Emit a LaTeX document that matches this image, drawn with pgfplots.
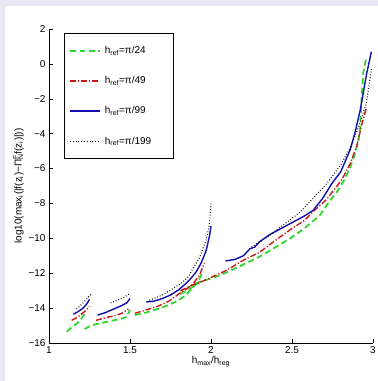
\documentclass[border=0pt]{standalone}
\usepackage{fontspec}
\setmainfont{Liberation Sans}
\usepackage{pgfplots}
\pgfplotsset{compat=1.18}
\definecolor{lav}{RGB}{234,230,246}
\definecolor{mgreen}{RGB}{45,215,45}
\definecolor{mred}{RGB}{200,25,25}
\definecolor{mblue}{RGB}{15,15,175}
\begin{document}
\begin{tikzpicture}
\fill[lav] (-49bp,-38bp) rectangle (329bp,343bp);
\fill[white] (-44bp,-38bp) rectangle (329bp,337bp);
\useasboundingbox (-49bp,-38bp) rectangle (329bp,343bp);
\begin{axis}[
  at={(0,0)}, anchor=south west,
  scale only axis, width=324bp, height=314bp,
  xmin=1, xmax=3, ymin=-16, ymax=2,
  axis x line*=bottom, axis y line*=left,
  axis line style={-, line width=0.6pt},
  tick align=inside, major tick length=4bp,
  tick style={black, line width=0.5pt},
  xtick={1,1.5,2,2.5,3}, xticklabels={1,1.5,2,2.5,3},
  ytick={-16,-14,...,2}, yticklabels={−16,−14,−12,−10,−8,−6,−4,−2,0,2},
  ticklabel style={font=\fontsize{10}{12}\selectfont},
  xlabel={h\textsubscript{max}/h\textsubscript{reg}},
  ylabel={log10(max\textsubscript{i}(|f(z\textsubscript{i})−Π\rlap{\textsuperscript{F}}\textsubscript{N}f(z\textsubscript{i})|))},
  label style={font=\fontsize{10}{12}\selectfont},
  xlabel style={yshift=4bp},
  ylabel style={yshift=-2bp},
  unbounded coords=jump,
  legend style={at={(0.046,0.987)}, anchor=north west, draw=black, fill=white,
    font=\fontsize{10}{12}\selectfont, row sep=17.5bp, inner xsep=5bp, inner ysep=11bp,
    line width=0.5pt,
    /tikz/every odd column/.append style={column sep=2bp}},
  legend cell align=left,
  legend image code/.code={\draw[#1] (0bp,0bp) -- (30bp,0bp);},
]
\addplot[mgreen, line width=1.8pt, dash pattern=on 6pt off 3.5pt] coordinates {
(1.11,-15.35)(1.14,-15.1)(1.17,-14.9)(1.20,-14.6)(1.22,-14.3)
(1.22,nan)
(1.22,-15.2)(1.26,-15.0)(1.30,-14.9)(1.35,-14.8)(1.40,-14.7)(1.45,-14.6)(1.48,-14.5)(1.50,-14.1)
(1.51,nan)
(1.53,-14.4)(1.60,-14.25)(1.67,-14.05)(1.73,-13.85)(1.79,-13.6)(1.84,-13.3)(1.87,-13.0)(1.90,-12.7)(1.93,-12.3)(1.95,-11.9)
(1.95,nan)
(1.81,-13.2)(1.87,-12.9)(1.93,-12.5)(2.0,-12.3)(2.06,-12.1)(2.12,-11.85)(2.2,-11.5)(2.3,-11.05)(2.4,-10.5)(2.49,-10.0)(2.58,-9.4)(2.67,-8.7)(2.73,-7.9)(2.78,-7.3)(2.82,-6.7)(2.86,-5.9)(2.89,-5.1)(2.91,-4.4)(2.92,-3.8)(2.93,-2.0)(2.94,-0.5)(2.96,0.4)
};
\addlegendentry{h\textsubscript{ref}=π/24\hspace*{21bp}}
\addplot[mred, line width=1.4pt, dash pattern=on 6pt off 2pt on 1.2pt off 2pt] coordinates {
(1.14,-14.7)(1.18,-14.5)(1.22,-14.2)(1.25,-13.9)
(1.27,nan)
(1.29,-14.7)(1.35,-14.55)(1.40,-14.45)(1.45,-14.3)(1.49,-14.05)
(1.51,nan)
(1.53,-14.3)(1.60,-14.1)(1.67,-13.9)(1.74,-13.6)(1.80,-13.2)(1.85,-12.9)(1.89,-12.6)(1.93,-12.1)(1.96,-11.4)
(1.96,nan)
(1.81,-13.0)(1.88,-12.7)(1.95,-12.45)(2.01,-12.2)(2.07,-11.95)(2.12,-11.7)(2.2,-11.25)(2.3,-10.8)(2.4,-10.1)(2.49,-9.5)(2.58,-8.95)(2.65,-8.3)(2.71,-7.8)(2.77,-7.1)(2.81,-6.6)(2.86,-5.7)(2.9,-4.7)(2.93,-3.5)(2.96,-2.5)
};
\addlegendentry{h\textsubscript{ref}=π/49}
\addplot[mblue, line width=1.4pt] coordinates {
(1.15,-14.35)(1.18,-14.2)(1.21,-14.0)(1.23,-13.8)(1.25,-13.5)
(1.27,nan)
(1.30,-14.4)(1.35,-14.25)(1.40,-14.05)(1.45,-13.85)(1.48,-13.7)(1.50,-13.45)
(1.55,nan)
(1.60,-13.65)(1.65,-13.6)(1.70,-13.45)(1.75,-13.25)(1.80,-12.95)(1.85,-12.55)(1.88,-12.25)(1.91,-11.9)(1.94,-11.4)(1.97,-10.7)(1.99,-9.9)(2.0,-9.3)
(2.05,nan)
(2.09,-11.3)(2.15,-11.2)(2.2,-11.0)(2.24,-10.6)(2.27,-10.5)(2.3,-10.2)(2.36,-9.8)(2.42,-9.5)(2.51,-9.05)(2.58,-8.7)(2.63,-8.4)(2.69,-7.7)(2.75,-6.8)(2.8,-6.2)(2.86,-4.9)(2.89,-3.9)(2.92,-2.7)(2.96,-0.6)(2.99,0.7)
};
\addlegendentry{h\textsubscript{ref}=π/99}
\addplot[black, line width=1.1pt, dash pattern=on 0.8pt off 2pt] coordinates {
(1.17,-14.05)(1.20,-13.8)(1.23,-13.5)(1.26,-13.2)
(1.3,nan)
(1.38,-13.7)(1.42,-13.55)(1.46,-13.4)(1.50,-13.15)
(1.55,nan)
(1.62,-13.55)(1.70,-13.25)(1.77,-12.85)(1.82,-12.55)(1.86,-12.2)(1.89,-11.7)(1.93,-11.1)(1.97,-10.1)(1.99,-9.2)(2.0,-8.0)
(2.1,nan)
(2.25,-10.5)(2.3,-10.2)(2.36,-9.85)(2.45,-9.2)(2.55,-8.5)(2.65,-7.5)(2.72,-6.8)(2.80,-5.8)(2.86,-4.8)(2.92,-3.4)(2.96,-2.2)(2.99,-0.3)
};
\addlegendentry{h\textsubscript{ref}=π/199}
\end{axis}
\end{tikzpicture}
\end{document}
